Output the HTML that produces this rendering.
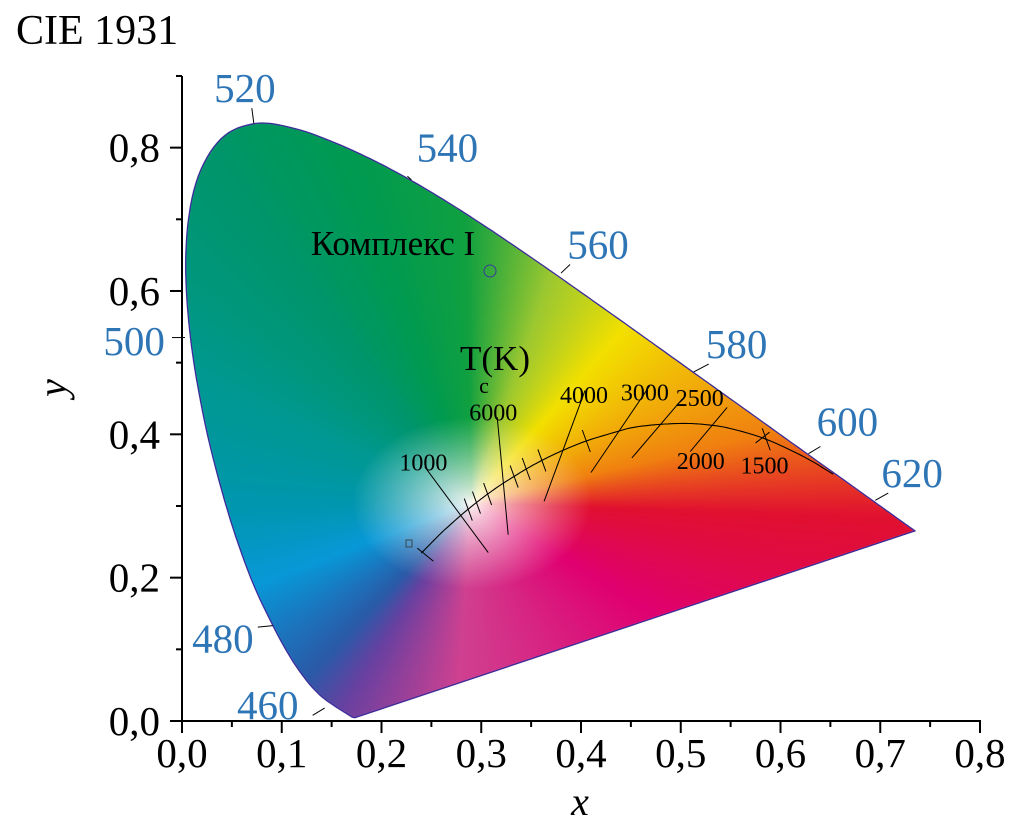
<!DOCTYPE html>
<html><head><meta charset="utf-8">
<style>
html,body{margin:0;padding:0;background:#fff;}
#wrap{position:relative;width:1016px;height:830px;overflow:hidden;}
canvas,svg{position:absolute;left:0;top:0;}
text{font-family:"Liberation Serif","Noto Serif CJK SC",serif;}
</style></head>
<body>
<div id="wrap">
<canvas id="cv" width="1016" height="830"></canvas>
<svg id="sv" width="1016" height="830"></svg>
</div>
<script>
// spectral locus data (wavelength nm, x, y)
const locusNm=[380,400,420,430,440,450,460,465,470,475,480,485,490,495,500,505,510,515,520,525,530,535,540,545,550,555,560,565,570,575,580,585,590,595,600,605,610,620,630,640,650,700];
const locusX=[0.1741,0.1733,0.1714,0.1689,0.1644,0.1566,0.1440,0.1355,0.1241,0.1096,0.0913,0.0687,0.0454,0.0235,0.0082,0.0039,0.0139,0.0389,0.0743,0.1142,0.1547,0.1929,0.2296,0.2658,0.3016,0.3373,0.3731,0.4087,0.4441,0.4788,0.5125,0.5448,0.5752,0.6029,0.6270,0.6482,0.6658,0.6915,0.7079,0.7190,0.7260,0.7347];
const locusY=[0.0050,0.0048,0.0051,0.0069,0.0109,0.0177,0.0297,0.0399,0.0578,0.0868,0.1327,0.2007,0.2950,0.4127,0.5384,0.6548,0.7502,0.8120,0.8338,0.8262,0.8059,0.7816,0.7543,0.7243,0.6923,0.6589,0.6245,0.5896,0.5547,0.5202,0.4866,0.4544,0.4242,0.3965,0.3725,0.3514,0.3340,0.3083,0.2920,0.2809,0.2740,0.2653];
// Planckian locus
const planckT=[1000,1200,1500,1800,2000,2200,2500,2800,3000,3500,4000,4500,5000,6000,7000,8000,10000,15000,20000,1e9];
const planckX=[0.6528,0.6251,0.5857,0.5497,0.5267,0.5046,0.4770,0.4527,0.4369,0.4053,0.3805,0.3608,0.3451,0.3221,0.3064,0.2952,0.2807,0.2637,0.2565,0.2399];
const planckY=[0.3444,0.3674,0.3931,0.4081,0.4133,0.4152,0.4137,0.4097,0.4041,0.3907,0.3768,0.3636,0.3516,0.3318,0.3166,0.3048,0.2883,0.2673,0.2577,0.2342];
// ticks on planckian locus (xy)
const tickX=[0.2870,0.2952,0.3064,0.3330,0.3451,0.3608,0.4053,0.5857];
const tickY=[0.2950,0.3048,0.3166,0.3410,0.3516,0.3636,0.3907,0.3931];
// wavelength labels
const wlLabels=["460","480","500","520","540","560","580","600","620"];
const wlLabelX=[0.086,0.041,-0.048,0.063,0.266,0.417,0.556,0.667,0.732];
const wlLabelY=[0.022,0.115,0.530,0.883,0.800,0.665,0.526,0.418,0.346];
const wlLeadX1=[0.131,0.076,-0.010,0.072,0.230,0.380,0.513,0.628,0.695];
const wlLeadY1=[0.008,0.131,0.535,0.834,0.755,0.625,0.487,0.373,0.308];
const wlLeadX2=[0.143,0.091,0.003,0.070,0.226,0.389,0.528,0.640,0.708];
const wlLeadY2=[0.018,0.133,0.535,0.855,0.760,0.637,0.498,0.383,0.318];
// temperature annotations
const tLabels=["1000","6000","4000","3000","2500","2000","1500"];
const tLabelX=[0.242,0.312,0.403,0.464,0.519,0.520,0.584];
const tLabelY=[0.362,0.432,0.456,0.460,0.452,0.364,0.358];
const tLineX1=[0.2435,0.3160,0.4040,0.4690,0.5020,0.5465,0.5890];
const tLineY1=[0.3545,0.4240,0.4610,0.4680,0.4500,0.4375,0.4030];
const tLineX2=[0.3070,0.3270,0.3630,0.4100,0.4510,0.5095,0.5750];
const tLineY2=[0.2350,0.2600,0.3065,0.3467,0.3670,0.3760,0.3880];
// axis ticks
const xTicks=[0,0.1,0.2,0.3,0.4,0.5,0.6,0.7,0.8];
const xTickLabels=["0,0","0,1","0,2","0,3","0,4","0,5","0,6","0,7","0,8"];
const yTicks=[0,0.2,0.4,0.6,0.8];
const yTickLabels=["0,0","0,2","0,4","0,6","0,8"];

const X0=182, XS=997.5, Y0=721, YS=716.7;
const sx=v=>X0+XS*v, sy=v=>Y0-YS*v;

function smooth(xs,ys){
 const P=xs.map((x,i)=>[sx(x),sy(ys[i])]);const n=P.length;const out=[];
 for(let i=0;i<n-1;i++){
  const p0=P[Math.max(i-1,0)],p1=P[i],p2=P[i+1],p3=P[Math.min(i+2,n-1)];
  for(let k=0;k<8;k++){const t=k/8,t2=t*t,t3=t2*t;
   out.push([0,1].map(j=>0.5*((2*p1[j])+(-p0[j]+p2[j])*t+(2*p0[j]-5*p1[j]+4*p2[j]-p3[j])*t2+(-p0[j]+3*p1[j]-3*p2[j]+p3[j])*t3)));}
 }
 out.push(P[n-1]);return out;
}
const locPts=smooth(locusX,locusY);

const cv=document.getElementById('cv'), ctx=cv.getContext('2d');
ctx.beginPath();
locPts.forEach((p,i)=>{i?ctx.lineTo(p[0],p[1]):ctx.moveTo(p[0],p[1]);});
ctx.closePath();ctx.save();ctx.clip();
const WX=0.29,WY=0.305;
const hueA=[-178,-152,-124,-114,-93,-40,-3,18,58,76,91,104,118,146,182];
const hueC=[[0,150,176],[8,152,216],[42,90,168],[106,64,160],[208,64,144],[224,0,112],[224,16,48],[240,128,16],[242,224,0],[156,200,48],[16,160,64],[0,154,80],[0,149,106],[0,152,144],[0,150,176]];
function hueCol(a){
 if(a<hueA[0])a+=360;
 for(let i=0;i<hueA.length-1;i++){if(a>=hueA[i]&&a<=hueA[i+1]){const f=(a-hueA[i])/(hueA[i+1]-hueA[i]);return [0,1,2].map(j=>hueC[i][j]*(1-f)+hueC[i+1][j]*f);}}
 return hueC[0];
}
const img=ctx.createImageData(1016,830);
for(let py=110;py<730;py++){for(let px=180;px<920;px++){
 const x=(px-X0)/XS, y=(Y0-py)/YS;
 const dx=x-WX,dy=y-WY;const a=Math.atan2(dy,dx)*180/Math.PI;
 const dist=Math.sqrt(dx*dx+dy*dy);
 const s=Math.pow(Math.min(1,dist/0.12),0.8);
 const c=hueCol(a);
 const o=(py*1016+px)*4;
 img.data[o]=255*(1-s)+c[0]*s;img.data[o+1]=250*(1-s)+c[1]*s;img.data[o+2]=245*(1-s)+c[2]*s;img.data[o+3]=255;
}}
const tmp=document.createElement('canvas');tmp.width=1016;tmp.height=830;
tmp.getContext('2d').putImageData(img,0,0);
ctx.drawImage(tmp,0,0);ctx.restore();

const NS="http://www.w3.org/2000/svg", sv=document.getElementById('sv');
function mk(tag,attrs,parent){const e=document.createElementNS(NS,tag);for(const k in attrs)e.setAttribute(k,attrs[k]);(parent||sv).appendChild(e);return e;}
function txt(s,x,y,size,fill,anchor,extra){const t=mk('text',Object.assign({x:x,y:y,'font-size':size,fill:fill,'text-anchor':anchor},extra||{}));t.textContent=s;return t;}

let d=locPts.map((p,i)=>(i?'L':'M')+p[0].toFixed(1)+','+p[1].toFixed(1)).join(' ')+' Z';
const lo=mk('path',{d:d,fill:'none',stroke:'#3a2a9a','stroke-width':1.3});



const ax=mk('g',{stroke:'#000','stroke-width':2});


mk('line',{x1:X0,y1:Y0,x2:sx(0.8)+1,y2:Y0},ax);
mk('line',{x1:X0,y1:Y0,x2:X0,y2:sy(0.9)},ax);
for(let i=0;i<=16;i++){const v=i*0.05;mk('line',{x1:sx(v),y1:Y0,x2:sx(v),y2:Y0+(i%2?6:12)},ax);}
for(let i=0;i<=9;i++){const v=i*0.1;mk('line',{x1:X0,y1:sy(v),x2:X0-(i%2?6:12),y2:sy(v)},ax);}
xTicks.forEach((v,i)=>{const t=txt(xTickLabels[i],sx(v),767,41,'#000','middle');
 
 });
yTicks.forEach((v,i)=>{const t=txt(yTickLabels[i],160,sy(v)+14,41,'#000','end');
 
 });
let t=txt('x',580,815,40,'#000','middle',{'font-style':'italic'});


t=txt('y',0,0,40,'#000','middle',{'font-style':'italic',transform:'translate(66,388) rotate(-90)'});


t=txt('CIE 1931',16,44,42,'#000','start');



wlLabels.forEach((s,i)=>{
 const l=mk('line',{x1:sx(wlLeadX1[i]),y1:sy(wlLeadY1[i]),x2:sx(wlLeadX2[i]),y2:sy(wlLeadY2[i]),stroke:'#000','stroke-width':1});
 
 
 const e=txt(s,sx(wlLabelX[i]),sy(wlLabelY[i])+14,41,'#2e75b6','middle');
 
 
});

const plPts=smooth(planckX,planckY);
d=plPts.map((p,i)=>(i?'L':'M')+p[0].toFixed(1)+','+p[1].toFixed(1)).join(' ');
const pl=mk('path',{d:d,fill:'none',stroke:'#000','stroke-width':1.1});


tickX.forEach((x,i)=>{
 const l=mk('line',{x1:sx(x)-4,y1:sy(tickY[i])-11,x2:sx(x)+4,y2:sy(tickY[i])+11,stroke:'#000','stroke-width':1});
 
 
});
const et=mk('line',{x1:sx(0.2399)-4,y1:sy(0.2342)-5,x2:sx(0.2399)+12,y2:sy(0.2342)+8,stroke:'#000','stroke-width':1});


tLabels.forEach((s,i)=>{
 const l=mk('line',{x1:sx(tLineX1[i]),y1:sy(tLineY1[i]),x2:sx(tLineX2[i]),y2:sy(tLineY2[i]),stroke:'#000','stroke-width':1});
 
 
 const e=txt(s,sx(tLabelX[i]),sy(tLabelY[i])+9,24,'#000','middle');
 
 
});
t=txt('T(K)',495,370,35,'#000','middle');


t=txt('c',484,393,22,'#000','middle');


t=txt('Комплекс I',393,255,35,'#000','middle');


const c=mk('circle',{cx:490,cy:271,r:6,fill:'none',stroke:'#3a3a9a','stroke-width':1});


const sq=mk('rect',{x:406,y:540,width:6,height:7,fill:'none',stroke:'#333','stroke-width':0.8});


</script>
</body></html>
